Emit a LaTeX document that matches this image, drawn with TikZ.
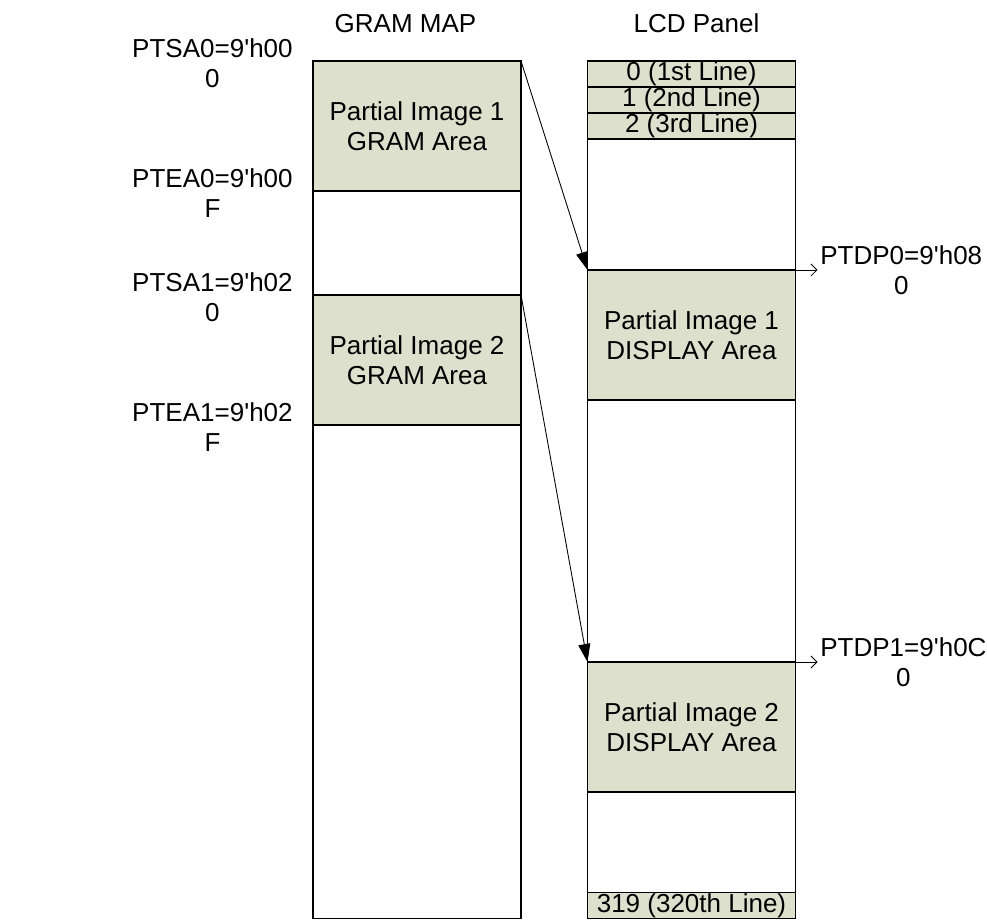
\documentclass[tikz,border=0pt]{standalone}
\usepackage{fontspec}
\setmainfont{Liberation Sans}
\usepackage{tikz}
\usetikzlibrary{positioning,arrows.meta}
\usepackage{xcolor}
\definecolor{areafill}{RGB}{221,224,204}

\begin{document}
\begin{tikzpicture}[
    every node/.style={font=\fontsize{14.8}{17}\selectfont},
    box/.style={draw, line width=0.6pt, inner sep=0pt, outer sep=0pt, anchor=north west, minimum width=4.16cm},
    gramarea/.style={box, fill=areafill, minimum height=2.6cm, align=center},
    lcdrow/.style={box, fill=areafill, minimum height=0.52cm},
    addr/.style={align=center, inner sep=0pt},
    mapto/.style={-{Triangle[length=0.36cm,width=0.24cm]}, line width=0.5pt},
    ptr/.style={-{Straight Barb[length=0.12cm,width=0.24cm]}, line width=0.5pt}
]
    \useasboundingbox (0,0) rectangle (19.74,18.42);

    % column titles
    \node (gramtitle) at (8.11,17.95) {GRAM MAP};
    \node (lcdtitle) at (13.93,17.95) {LCD Panel};

    % GRAM MAP column
    \node[box, minimum height=17.15cm] (gram) at (6.26,17.2) {};
    \node[gramarea] (g1) at (6.26,17.2) {Partial Image 1\\GRAM Area};
    \node[gramarea] (g2) at (6.26,12.52) {Partial Image 2\\GRAM Area};

    % LCD panel column
    \node[box, minimum height=17.15cm] (lcd) at (11.75,17.2) {};
    \node[lcdrow] (r0) at (11.75,17.2) {0 (1st Line)};
    \node[lcdrow, below=0pt of r0] (r1) {1 (2nd Line)};
    \node[lcdrow, below=0pt of r1] (r2) {2 (3rd Line)};
    \node[gramarea] (d1) at (11.75,13.02) {Partial Image 1\\DISPLAY Area};
    \node[gramarea] (d2) at (11.75,5.18) {Partial Image 2\\DISPLAY Area};
    \node[lcdrow, anchor=south west] (r319) at (lcd.south west) {319 (320th Line)};

    % address labels of the GRAM areas
    \node[addr, left=0.4cm of g1.north west, yshift=-0.05cm] (sa0) {PTSA0=9\textquotesingle h00\\0};
    \node[addr, left=0.4cm of g1.south west, yshift=-0.05cm] (ea0) {PTEA0=9\textquotesingle h00\\F};
    \node[addr, left=0.4cm of g2.north west, yshift=-0.05cm] (sa1) {PTSA1=9\textquotesingle h02\\0};
    \node[addr, left=0.4cm of g2.south west, yshift=-0.05cm] (ea1) {PTEA1=9\textquotesingle h02\\F};

    % display start lines
    \coordinate[right=0.44cm of d1.north east] (p0);
    \coordinate[right=0.44cm of d2.north east] (p1);
    \draw[ptr] (d1.north east) -- (p0);
    \draw[ptr] (d2.north east) -- (p1);
    \node[addr, right=0.05cm of p0] (dp0) {PTDP0=9\textquotesingle h08\\0};
    \node[addr, right=0.05cm of p1] (dp1) {PTDP1=9\textquotesingle h0C\\0};

    % GRAM areas mapped onto the panel
    \draw[mapto] (g1.north east) -- (d1.north west);
    \draw[mapto] (g2.north east) -- (d2.north west);
\end{tikzpicture}
\end{document}
